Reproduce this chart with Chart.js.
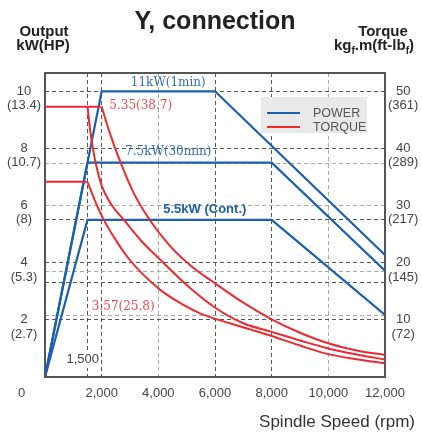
<!DOCTYPE html>
<html>
<head>
<meta charset="utf-8">
<script src="https://cdn.jsdelivr.net/npm/chart.js@4.4.0/dist/chart.umd.min.js"></script>
<style>
html, body { margin: 0; padding: 0; background: #fff; }
#wrap { position: relative; width: 422px; height: 434px; font-family: "Liberation Sans", Arial, sans-serif; }
#wrap canvas { position: absolute; left: 0; top: 0; }
.t { position: absolute; white-space: nowrap; line-height: 1; color: #222; }
.legend { position: absolute; left: 261px; top: 97px; width: 106px; height: 36px; background: #e9e9e9; }
.legend .row { position: absolute; left: 0; height: 14px; font-size: 12.5px; color: #555; line-height: 14px; }
.legend .sw { position: absolute; left: 6px; top: 6px; width: 33px; height: 2px; }
.legend .lb { position: absolute; left: 52px; top: 0; }
</style>
</head>
<body>
<div id="wrap">
  <canvas id="speedChart" width="422" height="434"></canvas>
  <div class="t" style="left:0;width:430px;top:8px;text-align:center;font-size:25px;font-weight:bold;">Y, connection</div>
  <div class="t" style="left:0;width:88px;top:23px;text-align:center;font-size:15px;font-weight:bold;">Output</div>
  <div class="t" style="left:0;width:86px;top:37px;text-align:center;font-size:15px;font-weight:bold;">kW(HP)</div>
  <div class="t" style="left:343px;width:80px;top:23px;text-align:center;font-size:15px;font-weight:bold;">Torque</div>
  <div class="t" style="left:326px;width:96px;top:37px;text-align:center;font-size:15px;font-weight:bold;">kg<sub style="font-size:10px">f</sub>.m(ft-lb<sub style="font-size:10px">f</sub>)</div>
  <div class="t" style="right:7px;top:413px;font-size:17px;color:#333;">Spindle Speed (rpm)</div>
  <div class="legend">
    <div class="row" style="top:9px;"><div class="sw" style="background:#1a5fb0"></div><span class="lb">POWER</span></div>
    <div class="row" style="top:23px;"><div class="sw" style="background:#ee2a30"></div><span class="lb">TORQUE</span></div>
  </div>
</div>
<script>
// speed axis
const speedTicks = [0, 1500, 2000, 4000, 6000, 8000, 10000, 12000];
const speedLabels = ['0             ', '', '2,000', '4,000', '6,000', '8,000', '10,000', '12,000'];
const speedGridDark = [1500, 2000, 6000, 8000];
const speedGridLight = [4000, 10000];

// output axis, kW with HP in brackets
const kwTicks = [2, 4, 6, 8, 10];
const hpLabels = ['(2.7)', '(5.3)', '(8)', '(10.7)', '(13.4)'];
const kwGridDark = [2, 3.3, 4, 5.5, 8, 10];
const kwGridLight = [2.17, 3.69, 6, 7.48];

// torque axis, kgf.m with ft-lbf in brackets
const torqueTicks = [10, 20, 30, 40, 50];
const ftlbLabels = ['(72)', '(145)', '(217)', '(289)', '(361)'];

// power lines (kW)
const power11Rpm = [0, 2000, 6000, 12000];
const power11 = [0, 10, 10, 4.27];
const power75Rpm = [0, 1500, 8000, 12000];
const power75 = [0, 7.5, 7.5, 3.72];
const power55Rpm = [0, 1500, 8000, 12000];
const power55 = [0, 5.5, 5.5, 2.17];

// torque lines, drawn on the output scale like the original sheet
const torqueTopFlatRpm = [0, 2000];
const torqueTopFlat = [9.46, 9.46];
const torqueLowFlatRpm = [0, 1500];
const torqueLowFlat = [6.83, 6.83];
const torque1minRpm = [2000, 2300, 2670, 3150, 3730, 4400, 5200, 5970, 7000, 8000, 9000, 10000, 11000, 12000];
const torque1min = [9.46, 8.5, 7.5, 6.4, 5.45, 4.6, 3.85, 3.3, 2.6, 2.02, 1.55, 1.18, 0.93, 0.77];
const torque30minRpm = [1500, 1600, 1700, 1790, 2000, 2300, 2790, 3400, 3970, 5000, 5970, 7000, 8000, 9000, 10000, 11000, 12000];
const torque30min = [9.46, 8.6, 7.95, 7.48, 6.7, 6.1, 5.49, 4.76, 4.2, 3.22, 2.45, 1.88, 1.58, 1.28, 1.0, 0.79, 0.61];
const torqueContRpm = [1500, 1750, 2080, 2450, 2910, 3450, 4080, 4750, 5490, 6530, 7300, 8000, 9000, 10000, 11000, 12000];
const torqueCont = [6.83, 6.2, 5.49, 4.87, 4.2, 3.6, 3.04, 2.6, 2.22, 1.88, 1.65, 1.435, 1.1, 0.8, 0.62, 0.48];

const BLUE = '#1a5fb0';
const RED = '#ee2a30';
const DARK = '#555';
const LIGHT = '#aaa';

const notes = [
    { text: '11kW(1min)', rpm: 4350, kw: 10.28, color: '#2f6fb8', font: '12px "DejaVu Serif"', align: 'center' },
    { text: '5.35(38.7)', rpm: 2270, kw: 9.5, color: '#ee4a4f', font: '12px "DejaVu Serif"', align: 'left' },
    { text: '7.5kW(30min)', rpm: 4350, kw: 7.89, color: '#2f6fb8', font: '12px "DejaVu Serif"', align: 'center' },
    { text: '5.5kW (Cont.)', rpm: 5640, kw: 5.88, color: BLUE, font: 'bold 13px "Liberation Sans"', align: 'center' },
    { text: '3.57(25.8)', rpm: 2760, kw: 2.44, color: '#ee4a4f', font: '12px "DejaVu Serif"', align: 'center' },
    { text: '1,500', rpm: 1330, kw: 0.6, color: '#444', font: '13px "Liberation Sans"', align: 'center', bg: true },
];

function pts(xs, ys) {
    return xs.map((x, i) => ({ x: x, y: ys[i] }));
}

function powerSet(xs, ys) {
    return { data: pts(xs, ys), borderColor: BLUE, borderWidth: 2.2, pointRadius: 0, tension: 0, fill: false };
}

function torqueSet(xs, ys, smooth) {
    return {
        data: pts(xs, ys), borderColor: RED, borderWidth: 2, pointRadius: 0, fill: false,
        cubicInterpolationMode: smooth ? 'monotone' : 'default', tension: smooth ? 0.4 : 0
    };
}

// box round the plot + text notes
const framePlugin = {
    id: 'frame',
    beforeDatasetsDraw(chart) {
        const a = chart.chartArea;
        const ctx = chart.ctx;
        ctx.save();
        ctx.strokeStyle = '#555';
        ctx.lineWidth = 2;
        ctx.strokeRect(a.left, a.top, a.right - a.left, a.bottom - a.top);
        ctx.restore();
    },
    afterDatasetsDraw(chart) {
        const ctx = chart.ctx;
        const xs = chart.scales.x, ys = chart.scales.y;
        ctx.save();
        ctx.textBaseline = 'middle';
        notes.forEach(n => {
            const px = xs.getPixelForValue(n.rpm);
            const py = ys.getPixelForValue(n.kw);
            ctx.font = n.font;
            ctx.textAlign = n.align;
            if (n.bg) {
                const w = ctx.measureText(n.text).width;
                ctx.fillStyle = '#fff';
                ctx.fillRect(px - w / 2 - 1, py - 8, w + 2, 16);
            }
            ctx.fillStyle = n.color;
            ctx.fillText(n.text, px, py);
        });
        ctx.restore();
    }
};

new Chart(document.getElementById('speedChart'), {
    type: 'line',
    data: {
        datasets: [
            torqueSet(torqueTopFlatRpm, torqueTopFlat, false),
            torqueSet(torqueLowFlatRpm, torqueLowFlat, false),
            torqueSet(torque1minRpm, torque1min, true),
            torqueSet(torque30minRpm, torque30min, true),
            torqueSet(torqueContRpm, torqueCont, true),
            powerSet(power11Rpm, power11),
            powerSet(power75Rpm, power75),
            powerSet(power55Rpm, power55),
        ]
    },
    options: {
        responsive: false,
        animation: false,
        devicePixelRatio: 1,
        layout: { padding: { top: 73, left: 0, right: 0, bottom: 0 } },
        plugins: { legend: { display: false }, tooltip: { enabled: false } },
        scales: {
            x: {
                type: 'linear',
                min: 0,
                max: 12000,
                afterBuildTicks: s => { s.ticks = speedTicks.map(v => ({ value: v })); },
                afterFit: s => { s.height = 57; },
                ticks: {
                    autoSkip: false,
                    maxRotation: 0,
                    padding: 9,
                    color: '#444',
                    font: { family: '"Liberation Sans", Arial', size: 13 },
                    callback: v => speedLabels[speedTicks.indexOf(v)]
                },
                grid: {
                    drawTicks: false,
                    lineWidth: 1,
                    color: c => speedGridDark.includes(c.tick.value) ? DARK : (speedGridLight.includes(c.tick.value) ? LIGHT : 'rgba(0,0,0,0)')
                },
                border: { display: false, dash: [4, 3] }
            },
            y: {
                position: 'left',
                min: 0,
                max: 10.64,
                afterBuildTicks: s => {
                    s.ticks = kwTicks.concat(kwGridDark, kwGridLight)
                        .filter((v, i, arr) => arr.indexOf(v) === i)
                        .sort((a, b) => a - b)
                        .map(v => ({ value: v }));
                },
                afterFit: s => { s.width = 45; },
                ticks: {
                    autoSkip: false,
                    padding: 4,
                    crossAlign: 'center',
                    color: '#444',
                    font: { family: '"Liberation Sans", Arial', size: 13, lineHeight: 1.1 },
                    callback: v => {
                        const i = kwTicks.indexOf(v);
                        return i < 0 ? '' : ['', String(v), hpLabels[i]];
                    }
                },
                grid: {
                    drawTicks: false,
                    lineWidth: 1,
                    color: c => kwGridDark.includes(c.tick.value) ? DARK : LIGHT
                },
                border: { display: false, dash: [4, 3] }
            },
            y1: {
                position: 'right',
                min: 0,
                max: 53.2,
                afterBuildTicks: s => { s.ticks = torqueTicks.map(v => ({ value: v })); },
                afterFit: s => { s.width = 37; },
                ticks: {
                    autoSkip: false,
                    padding: 3,
                    crossAlign: 'center',
                    color: '#444',
                    font: { family: '"Liberation Sans", Arial', size: 13, lineHeight: 1.1 },
                    callback: v => ['', String(v), ftlbLabels[torqueTicks.indexOf(v)]]
                },
                grid: { display: false, drawTicks: false },
                border: { display: false }
            }
        }
    },
    plugins: [framePlugin]
});
</script>
</body>
</html>
